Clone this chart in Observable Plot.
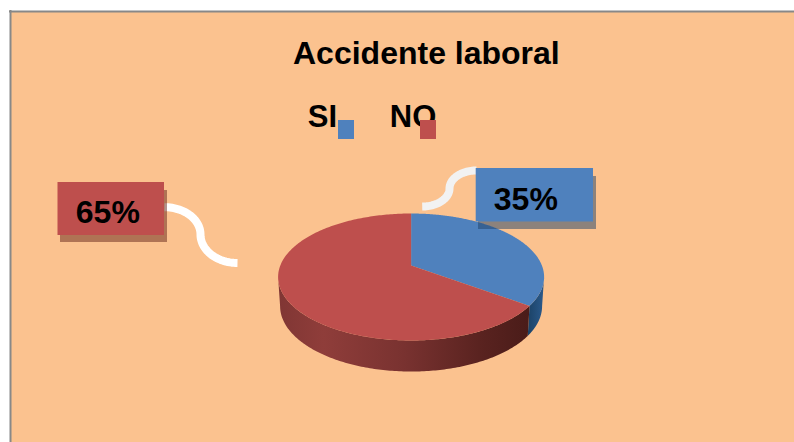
<!DOCTYPE html>
<html>
<head>
<meta charset="utf-8">
<script src="https://cdn.jsdelivr.net/npm/d3@7"></script>
<script src="https://cdn.jsdelivr.net/npm/@observablehq/plot@0.6"></script>
<style>html,body{margin:0;padding:0;background:#fff}svg{display:block}</style>
</head>
<body>
<div id="chart"></div>
<script>
const title = "Accidente laboral";
const categories = ["SI", "NO"];
const values = [35, 65];
const topColors = ["#4f81bd", "#be4f4d"];
const shadowColors = ["#1e426a", "#64241a"];
const wallFills = ["url(#wallBlue)", "url(#wallRed)"];

// Layout (page pixels through identity scales)
const W = 794, H = 442;
const pie3d = {cx: 410.6, cy: 265, R: 130.8, r: 61.4, k: 0.181, drop: 28.8, bottomScale: 0.985, bottomR: 1.03};
const legendLayout = [
  {tx: 307.3, sx1: 338, sx2: 354},
  {tx: 389.3, sx1: 420, sx2: 436}
];
const boxLayout = [
  {x1: 475.7, x2: 593, y1: 168, y2: 221.5, tx: 493.3, ty: 209, sx1: 478, sx2: 596, sy1: 176, sy2: 229,
   leader: [476, 170, 449, 188, 421.7, 206]},
  {x1: 57.5, x2: 164, y1: 182, y2: 235, tx: 75.3, ty: 222.7, sx1: 60, sx2: 167, sy1: 190, sy2: 242,
   leader: [164, 206.7, 200, 234, 237, 262.5]}
];

function project(theta, bottom) {
  const X = Math.sin(theta), Z = -Math.cos(theta);
  const s = 1 / (1 - pie3d.k * Z);
  if (!bottom) return {x: pie3d.cx + pie3d.R * X * s, y: pie3d.cy + pie3d.r * Z * s};
  return {
    x: pie3d.cx + pie3d.R * pie3d.bottomScale * X * s,
    y: pie3d.cy + pie3d.drop + pie3d.r * pie3d.bottomR * Z * s
  };
}
function range(a, b, n) { return d3.range(n + 1).map(i => a + (b - a) * i / n); }

const arcs = d3.pie().sort(null)(values);
const visR = Math.acos(-pie3d.k), visL = 2 * Math.PI - visR;

const topFaces = arcs.map((a, i) => ({
  i,
  pts: [{x: pie3d.cx, y: pie3d.cy}, ...range(a.startAngle, a.endAngle, 240).map(t => project(t))]
}));
const walls = arcs.map((a, i) => {
  const s = Math.max(a.startAngle, visR), e = Math.min(a.endAngle, visL);
  const ts = range(s, e, 160);
  return {i, pts: [...ts.map(t => project(t)), ...ts.slice().reverse().map(t => project(t, true))]};
});

function leaderPts([x0, y0, xm, ym, x1, y1]) {
  const a = range(0, Math.PI / 2, 30).map(t => ({x: x0 + (xm - x0) * Math.sin(t), y: y0 + (ym - y0) * (1 - Math.cos(t))}));
  const b = range(Math.PI / 2, 0, 30).map(t => ({x: x1 + (xm - x1) * Math.sin(t), y: y1 + (ym - y1) * (1 - Math.cos(t))}));
  return [...a, ...b];
}

function gradient(defs, id, stops) {
  const g = defs.append("linearGradient").attr("id", id);
  stops.forEach(([o, c]) => g.append("stop").attr("offset", o).attr("stop-color", c));
}
const defsMark = () => {
  const defs = d3.create("svg:defs");
  gradient(defs, "wallRed", [[0, "#803634"], [0.18, "#8f3d3a"], [0.5, "#793230"], [0.8, "#5a2320"], [1, "#4a1c19"]]);
  gradient(defs, "wallBlue", [[0, "#1b4266"], [1, "#2b5a8c"]]);
  return defs.node();
};

const textStyle = {fontFamily: "'Liberation Sans', Arial, sans-serif", fontWeight: "bold", fill: "#000", textAnchor: "start", lineAnchor: "bottom"};

const plot = Plot.plot({
  width: W, height: H,
  margin: 0,
  x: {domain: [0, W], range: [0, W], axis: null},
  y: {domain: [0, H], range: [0, H], axis: null},
  style: {background: "#fff"},
  marks: [
    defsMark,
    Plot.rect([0], {x1: 10, x2: W, y1: 11, y2: H, fill: "#fbc28f"}),
    Plot.ruleX([10], {y1: 10, y2: H, stroke: "#888", strokeWidth: 2}),
    Plot.ruleY([11], {x1: 9, x2: W, stroke: "#888", strokeWidth: 2}),

    // 3D side walls then top faces
    ...walls.map(w => Plot.line(w.pts, {x: "x", y: "y", fill: wallFills[w.i], stroke: "none"})),
    ...topFaces.map(f => Plot.line(f.pts, {x: "x", y: "y", fill: topColors[f.i], stroke: "none"})),

    // Leaders
    ...boxLayout.map((b, i) => Plot.line(leaderPts(b.leader), {x: "x", y: "y", stroke: i === 0 ? "#f2f2f2" : "#fff", strokeWidth: 8, strokeLinecap: "butt"})),

    // Callout boxes
    Plot.rect(boxLayout, {x1: "sx1", x2: "sx2", y1: "sy1", y2: "sy2", fill: (d, i) => shadowColors[i], fillOpacity: 0.5}),
    Plot.rect(boxLayout, {x1: "x1", x2: "x2", y1: "y1", y2: "y2", fill: (d, i) => topColors[i]}),
    Plot.text(boxLayout, {x: "tx", y: "ty", text: (d, i) => values[i] + "%", fontSize: 32, ...textStyle}),

    // Title
    Plot.text([title], {x: 292.5, y: 63, text: d => d, fontSize: 32, ...textStyle}),

    // Legend
    Plot.text(legendLayout, {x: "tx", y: 126, text: (d, i) => categories[i], fontSize: 31, ...textStyle}),
    Plot.rect(legendLayout, {x1: "sx1", x2: "sx2", y1: 120, y2: 139, fill: (d, i) => topColors[i]})
  ]
});
document.getElementById("chart").append(plot);
</script>
</body>
</html>
